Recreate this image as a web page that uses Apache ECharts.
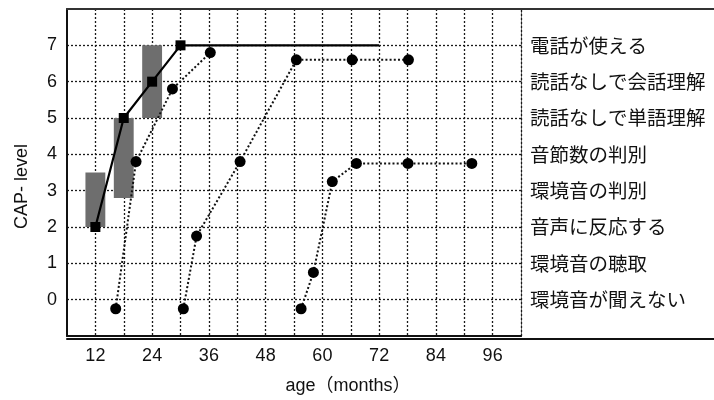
<!DOCTYPE html>
<html>
<head>
<meta charset="utf-8">
<script src="https://cdn.jsdelivr.net/npm/echarts@6/dist/echarts.min.js"></script>
<style>
html,body{margin:0;padding:0;background:#fff;}
#c{width:714px;height:400px;}
</style>
</head>
<body>
<div id="c"></div>
<script>
// ---- data ----
const levelLabels = ['環境音が聞えない','環境音の聴取','音声に反応する','環境音の判別','音節数の判別','読話なしで単語理解','読話なしで会話理解','電話が使える']; // levels 0..7
const xTickLabels = [12, 24, 36, 48, 60, 72, 84, 96];
const yTickLabels = [0, 1, 2, 3, 4, 5, 6, 7];

const meanAge   = [12, 18, 24, 30, 72];
const meanLevel = [2, 5, 6, 7, 7];

const rangeAge  = [12, 18, 24];
const rangeLow  = [2, 2.8, 5];
const rangeHigh = [3.5, 5, 7];

const caseAAge   = [16.3, 20.6, 28.3, 36.3];
const caseALevel = [-0.25, 3.8, 5.8, 6.8];
const caseBAge   = [30.6, 33.4, 42.6, 54.5, 66.3, 78.2];
const caseBLevel = [-0.25, 1.75, 3.8, 6.6, 6.6, 6.6];
const caseCAge   = [55.5, 58.1, 62.1, 67.2, 78.1, 91.6];
const caseCLevel = [-0.25, 0.75, 3.25, 3.75, 3.75, 3.75];

const xAxisName = 'age（months）';
const yAxisName = 'CAP- level';

// ---- chart ----
const zip = (a, b) => a.map((v, i) => [v, b[i]]);
const numFont = "'Liberation Sans', Arial, sans-serif";
const cjkFont = "'Noto Sans CJK JP', sans-serif";
const gridDash = { color: '#1a1a1a', width: 1.3, type: [2, 2] };

const chart = echarts.init(document.getElementById('c'), null, { renderer: 'canvas' });

const dottedSeries = (data) => ({
  type: 'line',
  data: data,
  symbol: 'circle',
  symbolSize: 11,
  itemStyle: { color: '#000' },
  lineStyle: { color: '#111', width: 2, type: [2, 2.2] },
  z: 4,
  animation: false
});

chart.setOption({
  backgroundColor: '#fff',
  animation: false,
  grid: [
    { left: 67, right: 193, top: 9, bottom: 61, containLabel: false },
    { left: 67, right: 0, top: 9, bottom: 61, containLabel: false }
  ],
  xAxis: [
    {
      type: 'value', gridIndex: 0, min: 6, max: 102, interval: 6,
      axisLine: { show: true, onZero: false, lineStyle: { color: '#111', width: 2 } },
      axisTick: { show: false },
      axisLabel: {
        margin: 11, fontSize: 18, color: '#111', fontFamily: numFont,
        formatter: v => xTickLabels.includes(v) ? String(v) : ''
      },
      splitLine: { show: true, showMinLine: false, showMaxLine: false, lineStyle: gridDash },
      name: xAxisName, nameLocation: 'middle', nameGap: 41,
      nameTextStyle: { fontSize: 18, color: '#111', fontFamily: numFont + ", 'Noto Sans CJK JP'", padding: [0, 0, 0, 108] }
    },
    {
      type: 'value', gridIndex: 1, position: 'top', min: 0, max: 1,
      axisLine: { show: true, onZero: false, lineStyle: { color: '#333', width: 2 } },
      axisTick: { show: false }, axisLabel: { show: false }, splitLine: { show: false }
    },
    {
      type: 'value', gridIndex: 1, position: 'bottom', min: 0, max: 1,
      axisLine: { show: true, onZero: false, lineStyle: { color: '#111', width: 2 } },
      axisTick: { show: false }, axisLabel: { show: false }, splitLine: { show: false }
    }
  ],
  yAxis: [
    {
      type: 'value', gridIndex: 0, min: -1, max: 8, interval: 1,
      axisLine: { show: true, onZero: false, lineStyle: { color: '#111', width: 2 } },
      axisTick: { show: false },
      axisLabel: {
        margin: 10, fontSize: 18, color: '#111', fontFamily: numFont,
        formatter: v => yTickLabels.includes(v) ? String(v) : ''
      },
      splitLine: { show: true, showMinLine: false, showMaxLine: false, lineStyle: gridDash },
      name: yAxisName, nameLocation: 'middle', nameGap: 36, nameRotate: 90,
      nameTextStyle: { fontSize: 18, color: '#111', fontFamily: numFont, padding: [0, 28, 0, 0] }
    },
    {
      type: 'value', gridIndex: 0, position: 'right', min: -1, max: 8, interval: 1,
      axisLine: { show: true, onZero: false, lineStyle: gridDash },
      axisTick: { show: false },
      splitLine: { show: false },
      axisLabel: {
        margin: 9, fontSize: 19.5, color: '#111', fontFamily: cjkFont, align: 'left',
        padding: [6, 0, 0, 0],
        formatter: v => (v >= 0 && v <= 7) ? levelLabels[v] : ''
      }
    },
    { type: 'value', gridIndex: 1, min: 0, max: 1, show: false }
  ],
  series: [
    {
      type: 'custom',
      xAxisIndex: 0, yAxisIndex: 0,
      data: rangeAge.map((a, i) => [a, rangeLow[i], rangeHigh[i]]),
      renderItem: (params, api) => {
        const x = api.value(0), lo = api.value(1), hi = api.value(2);
        const p1 = api.coord([x - 2.1, hi]);
        const p2 = api.coord([x + 2.1, lo]);
        return {
          type: 'rect',
          shape: { x: p1[0], y: p1[1], width: p2[0] - p1[0], height: p2[1] - p1[1] },
          style: { fill: '#6e6e6e' }
        };
      },
      z: 2
    },
    {
      type: 'line',
      data: zip(meanAge, meanLevel),
      symbol: (val, params) => params.dataIndex < meanAge.length - 1 ? 'rect' : 'none',
      symbolSize: 10,
      itemStyle: { color: '#000' },
      lineStyle: { color: '#000', width: 2.2, type: 'solid' },
      z: 5
    },
    dottedSeries(zip(caseAAge, caseALevel)),
    dottedSeries(zip(caseBAge, caseBLevel)),
    dottedSeries(zip(caseCAge, caseCLevel))
  ]
});
</script>
</body>
</html>
